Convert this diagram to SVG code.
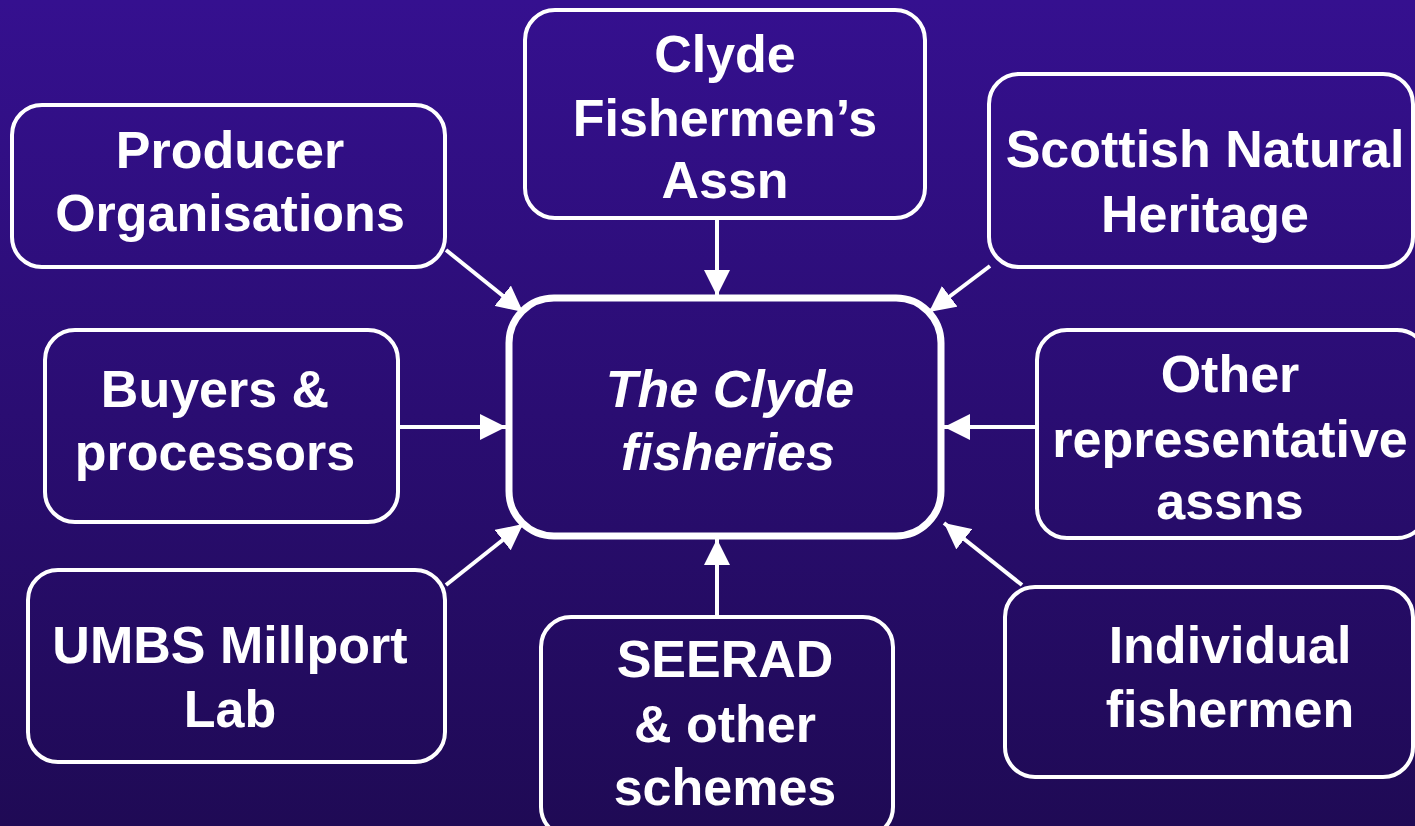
<svg xmlns="http://www.w3.org/2000/svg" width="1415" height="826" viewBox="0 0 1415 826">
<defs>
<linearGradient id="bg" x1="0" y1="0" x2="0" y2="1">
<stop offset="0" stop-color="#35108f"/>
<stop offset="1" stop-color="#1f0a55"/>
</linearGradient>
<marker id="ah" viewBox="0 0 10 10" refX="10" refY="5" markerWidth="6.5" markerHeight="6.5" markerUnits="strokeWidth" orient="auto">
<path d="M0,0 L10,5 L0,10 Z" fill="#fff"/>
</marker>
<style>
.box{fill:none;stroke:#fff;stroke-width:4}
.main{fill:none;stroke:#fff;stroke-width:7}
.t{font-family:"Liberation Sans",Arial,sans-serif;font-weight:bold;font-size:52px;fill:#fff;text-anchor:middle}
.i{font-style:italic}
.c{stroke:#fff;stroke-width:4;fill:none;marker-end:url(#ah)}
</style>
</defs>
<rect width="1415" height="826" fill="url(#bg)"/>
<g id="connectors">
<line class="c" x1="446" y1="250" x2="523" y2="312"/>
<line class="c" x1="717" y1="218" x2="717" y2="296"/>
<line class="c" x1="990" y1="266" x2="929" y2="312"/>
<line class="c" x1="398" y1="427" x2="506" y2="427"/>
<line class="c" x1="1037" y1="427" x2="944" y2="427"/>
<line class="c" x1="446" y1="585" x2="523" y2="524"/>
<line class="c" x1="717" y1="617" x2="717" y2="539"/>
<line class="c" x1="1022" y1="585" x2="944" y2="523"/>
</g>
<g id="producer">
<rect class="box" x="12" y="105" width="433" height="162" rx="30"/>
<text class="t" x="230" y="168">Producer</text>
<text class="t" x="230" y="231">Organisations</text>
</g>
<g id="cfa">
<rect class="box" x="525" y="10" width="400" height="208" rx="30"/>
<text class="t" x="725" y="72">Clyde</text>
<text class="t" x="725" y="136">Fishermen’s</text>
<text class="t" x="725" y="198">Assn</text>
</g>
<g id="snh">
<rect class="box" x="989" y="74" width="424" height="193" rx="30"/>
<text class="t" x="1205" y="167">Scottish Natural</text>
<text class="t" x="1205" y="232">Heritage</text>
</g>
<g id="buyers">
<rect class="box" x="45" y="330" width="353" height="192" rx="30"/>
<text class="t" x="215" y="407">Buyers &amp;</text>
<text class="t" x="215" y="470">processors</text>
</g>
<g id="center">
<rect class="main" x="509" y="298" width="432" height="238" rx="45"/>
<text class="t i" x="730" y="407">The Clyde</text>
<text class="t i" x="728" y="470">fisheries</text>
</g>
<g id="other">
<rect class="box" x="1037" y="330" width="390" height="208" rx="30"/>
<text class="t" x="1230" y="392">Other</text>
<text class="t" x="1230" y="457">representative</text>
<text class="t" x="1230" y="519">assns</text>
</g>
<g id="umbs">
<rect class="box" x="28" y="570" width="417" height="192" rx="30"/>
<text class="t" x="230" y="663">UMBS Millport</text>
<text class="t" x="230" y="727">Lab</text>
</g>
<g id="seerad">
<rect class="box" x="541" y="617" width="352" height="220" rx="30"/>
<text class="t" x="725" y="677">SEERAD</text>
<text class="t" x="725" y="742">&amp; other</text>
<text class="t" x="725" y="805">schemes</text>
</g>
<g id="individual">
<rect class="box" x="1005" y="587" width="408" height="190" rx="30"/>
<text class="t" x="1230" y="663">Individual</text>
<text class="t" x="1230" y="727">fishermen</text>
</g>
</svg>
